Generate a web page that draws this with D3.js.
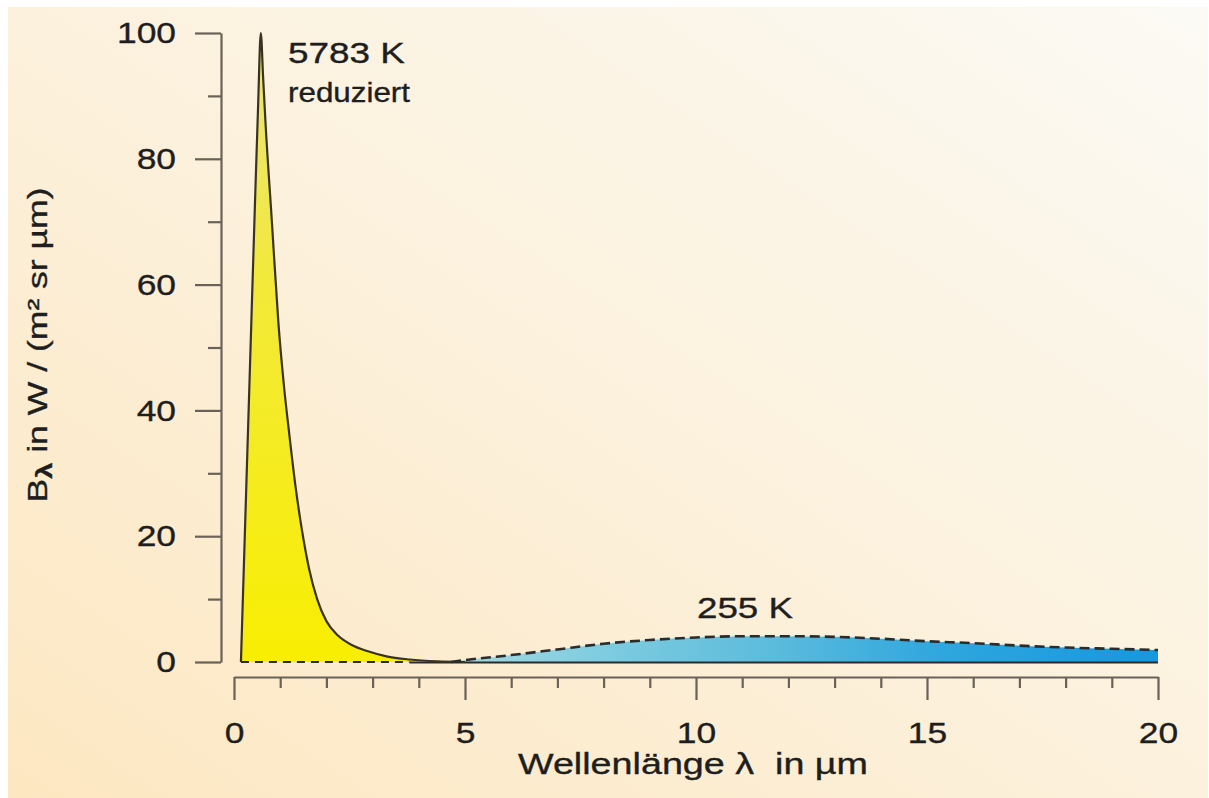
<!DOCTYPE html>
<html><head><meta charset="utf-8">
<script src="https://cdn.jsdelivr.net/npm/d3@7"></script>
<style>
html,body{margin:0;padding:0;background:#fff;}
svg{display:block;}
text{font-family:"Liberation Sans",Arial,sans-serif;fill:#1e1e1e;stroke:#1e1e1e;stroke-width:0.35px;}
</style></head>
<body>
<svg id="chart" width="1209" height="798"></svg>
<script>
// ---- data ----
const yellowLambda = [0.15,0.25,0.35,0.45,0.52,0.58,0.63,0.68,0.82,0.96,1.08,1.2,1.33,1.47,1.62,1.8,2.0,2.25,2.55,2.9,3.3,3.8,4.4,5.0];
const yellowValue  = [0,24,48,72,88,100,93,86,70,54,44,36,28,21,15,10,6.5,4.2,2.7,1.7,0.9,0.4,0.1,0];
const blueLambda = [4.7,5.0,6,7,8,9,10,11,12,13,14,15,16,17,18,19,20];
const blueValue  = [0,0.3,1.1,2.0,2.9,3.5,3.9,4.1,4.1,4.0,3.7,3.3,3.0,2.6,2.3,2.1,1.9];
const xMajorTicks = [0,5,10,15,20];
const xMinorTicks = [1,2,3,4,6,7,8,9,11,12,13,14,16,17,18,19];
const yMajorTicks = [0,20,40,60,80,100];
const yMinorTicks = [10,30,50,70,90];
const yellowBaselineEnd = 3.8;
const labelHot = "5783 K";
const labelHotSub = "reduziert";
const labelCold = "255 K";
const xTitle = "Wellenlänge λ\u00A0\u00A0in µm";

const svg = d3.select("#chart");
const defs = svg.append("defs");

// background
const bg = defs.append("linearGradient").attr("id","bg").attr("x1",0).attr("y1",1).attr("x2",1).attr("y2",0);
bg.append("stop").attr("offset",0).attr("stop-color","#fde7c1");
bg.append("stop").attr("offset",0.45).attr("stop-color","#fcf0da");
bg.append("stop").attr("offset",1).attr("stop-color","#fbfaf4");
svg.append("rect").attr("x",0).attr("y",0).attr("width",1209).attr("height",798).attr("fill","#fff");
svg.append("rect").attr("x",8).attr("y",7).attr("width",1200).attr("height",791).attr("fill","url(#bg)");

const x = d3.scaleLinear().domain([0,20]).range([234,1158]);
const y = d3.scaleLinear().domain([0,100]).range([662,33]);

// gradients for fills
const yg = defs.append("linearGradient").attr("id","yg").attr("gradientUnits","userSpaceOnUse")
  .attr("x1",0).attr("y1",y(100)).attr("x2",0).attr("y2",y(0));
yg.append("stop").attr("offset",0).attr("stop-color","#ebe57c");
yg.append("stop").attr("offset",0.4).attr("stop-color","#f2e93a");
yg.append("stop").attr("offset",1).attr("stop-color","#f8ee02");

const bgr = defs.append("linearGradient").attr("id","bgr").attr("gradientUnits","userSpaceOnUse")
  .attr("x1",x(4.7)).attr("y1",0).attr("x2",x(20)).attr("y2",0);
bgr.append("stop").attr("offset",0).attr("stop-color","#a8dadf");
bgr.append("stop").attr("offset",0.2).attr("stop-color","#80cde0");
bgr.append("stop").attr("offset",0.45).attr("stop-color","#5cbcdc");
bgr.append("stop").attr("offset",0.7).attr("stop-color","#2ea6de");
bgr.append("stop").attr("offset",1).attr("stop-color","#1598de");

const yellowData = yellowLambda.map((l,i)=>({l, v:yellowValue[i]}));
const blueData = blueLambda.map((l,i)=>({l, v:blueValue[i]}));

const area = d3.area().x(d=>x(d.l)).y0(y(0)).y1(d=>y(d.v)).curve(d3.curveMonotoneX);
const line = d3.line().x(d=>x(d.l)).y(d=>y(d.v)).curve(d3.curveMonotoneX);

// blue area
svg.append("path").datum(blueData).attr("d",area).attr("fill","url(#bgr)");
// yellow area
svg.append("path").datum(yellowData).attr("d",area).attr("fill","url(#yg)");

// baseline solid under blue
svg.append("line").attr("x1",x(yellowBaselineEnd)).attr("x2",x(20)).attr("y1",y(0)+0.5).attr("y2",y(0)+0.5)
  .attr("stroke","#2b2b2b").attr("stroke-width",2);
// yellow dashed baseline
svg.append("line").attr("x1",x(yellowLambda[0])).attr("x2",x(yellowBaselineEnd)).attr("y1",y(0)).attr("y2",y(0))
  .attr("stroke","#2b2b2b").attr("stroke-width",2.2).attr("stroke-dasharray","8,6");
// yellow outline
svg.append("path").datum(yellowData).attr("d",line).attr("fill","none")
  .attr("stroke","#3a3322").attr("stroke-width",2.2).attr("stroke-linejoin","round");
// blue dashed top
svg.append("path").datum(blueData).attr("d",line).attr("fill","none")
  .attr("stroke","#2b2b2b").attr("stroke-width",2.6).attr("stroke-dasharray","10,5");

// axes
const axisColor = "#6a6258";
function styleAxis(g){
  g.selectAll("path.domain").attr("stroke",axisColor).attr("stroke-width",2.2);
  g.selectAll(".tick line").attr("stroke",axisColor).attr("stroke-width",2.2);
  g.selectAll(".tick text").attr("font-family",'"Liberation Sans",Arial,sans-serif').attr("font-size",30).attr("fill","#1e1e1e");
}
const yAxisG = svg.append("g").attr("transform","translate(221,0)")
  .call(d3.axisLeft(y).tickValues(yMajorTicks).tickSize(26).tickSizeOuter(0).tickPadding(19));
styleAxis(yAxisG);
const yMinorG = svg.append("g").attr("transform","translate(221,0)")
  .call(d3.axisLeft(y).tickValues(yMinorTicks).tickSize(13).tickSizeOuter(0).tickFormat(""));
styleAxis(yMinorG); yMinorG.select("path.domain").remove();

const xAxisG = svg.append("g").attr("transform","translate(0,677)")
  .call(d3.axisBottom(x).tickValues(xMajorTicks).tickSize(23).tickSizeOuter(0).tickPadding(22));
styleAxis(xAxisG);
const xMinorG = svg.append("g").attr("transform","translate(0,677)")
  .call(d3.axisBottom(x).tickValues(xMinorTicks).tickSize(11).tickSizeOuter(0).tickFormat(""));
styleAxis(xMinorG); xMinorG.select("path.domain").remove();

// widen tick labels slightly to match the reference glyph proportions
svg.selectAll(".tick text").each(function(){
  const w = this.getComputedTextLength();
  if (w>0) d3.select(this).attr("textLength", w*1.18).attr("lengthAdjust","spacingAndGlyphs");
});

// annotations
function label(txt, xx, yy, size, len){
  return svg.append("text").attr("x",xx).attr("y",yy).attr("font-size",size)
    .attr("textLength",len).attr("lengthAdjust","spacingAndGlyphs").text(txt);
}
label(labelHot, 288, 63, 30, 117);
label(labelHotSub, 288, 102, 27, 122);
label(labelCold, 697, 618, 30, 96);
label(xTitle, 518, 774, 29, 350);

// y title
const yt = svg.append("text").attr("transform","translate(47,345) rotate(-90)")
  .attr("text-anchor","middle").attr("font-size",27)
  .attr("textLength",315).attr("lengthAdjust","spacingAndGlyphs");
yt.append("tspan").text("B");
yt.append("tspan").attr("font-weight","bold").attr("font-size",22).attr("dy",5).text("λ");
yt.append("tspan").attr("dy",-5).text(" in W / (m² sr µm)");
</script>
</body></html>
